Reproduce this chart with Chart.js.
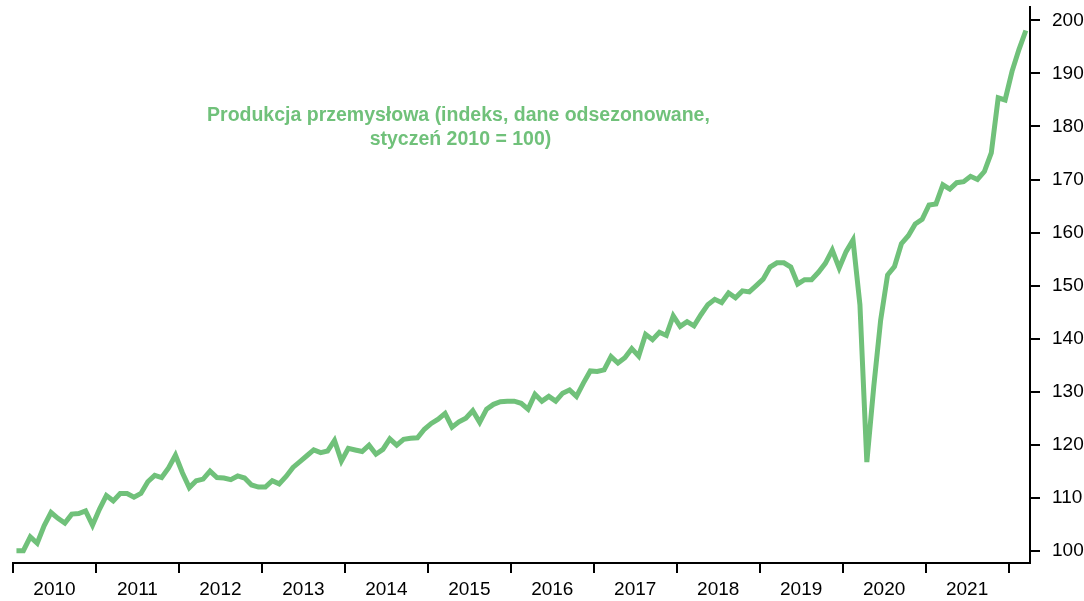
<!DOCTYPE html>
<html>
<head>
<meta charset="utf-8">
<script src="https://cdn.jsdelivr.net/npm/chart.js@4.4.0/dist/chart.umd.min.js"></script>
<style>
html,body{margin:0;padding:0;background:#ffffff;}
#wrap{width:1084px;height:601px;position:relative;}
</style>
</head>
<body>
<div id="wrap"><canvas id="c" width="1084" height="601"></canvas></div>
<script>
// ---- data (monthly, Jan 2010 .. Mar 2022) ----
const yearLabels = ['2010','2011','2012','2013','2014','2015','2016','2017','2018','2019','2020','2021'];
const v2010 = [100.0, 100.0, 102.6, 101.4, 104.7, 107.2, 106.1, 105.2, 106.9, 107.0, 107.5, 104.8];
const v2011 = [107.8, 110.4, 109.4, 110.8, 110.8, 110.1, 110.8, 113.0, 114.2, 113.8, 115.6, 118.0];
const v2012 = [114.7, 111.9, 113.2, 113.5, 115.0, 113.8, 113.7, 113.4, 114.1, 113.7, 112.4, 112.0];
const v2013 = [112.0, 113.2, 112.6, 114.0, 115.7, 116.8, 117.9, 119.0, 118.5, 118.8, 120.8, 116.9];
const v2014 = [119.3, 119.0, 118.7, 119.9, 118.2, 119.1, 121.1, 119.9, 121.0, 121.2, 121.3, 122.9];
const v2015 = [124.0, 124.8, 125.9, 123.3, 124.3, 125.0, 126.4, 124.2, 126.7, 127.6, 128.1, 128.2];
const v2016 = [128.2, 127.8, 126.7, 129.5, 128.2, 129.1, 128.2, 129.7, 130.3, 129.1, 131.6, 133.9];
const v2017 = [133.8, 134.1, 136.6, 135.4, 136.4, 138.1, 136.7, 140.8, 139.8, 141.2, 140.6, 144.3];
const v2018 = [142.3, 143.2, 142.4, 144.5, 146.4, 147.4, 146.8, 148.6, 147.7, 149.0, 148.8, 150.0];
const v2019 = [151.2, 153.5, 154.3, 154.3, 153.5, 150.3, 151.1, 151.1, 152.5, 154.2, 156.7, 153.3];
const v2020 = [156.4, 158.6, 146.4, 116.7, 130.9, 143.5, 152.0, 153.6, 157.9, 159.4, 161.6, 162.5];
const v2021 = [165.2, 165.4, 169.0, 168.2, 169.4, 169.6, 170.6, 170.0, 171.5, 175.0, 185.4, 185.0];
const v2022 = [190.4, 194.5, 198.1];
const yTicks = [100, 110, 120, 130, 140, 150, 160, 170, 180, 190, 200];
const titleLines = ['Produkcja przemysłowa (indeks, dane odsezonowane,', 'styczeń 2010 = 100)'];

const values = [].concat(v2010, v2011, v2012, v2013, v2014, v2015, v2016, v2017, v2018, v2019, v2020, v2021, v2022);
const points = values.map((v, i) => ({ x: i + 0.5, y: v }));
const yearTicks = yearLabels.map((_, k) => k * 12).concat([yearLabels.length * 12]);

const GREEN = '#70c17a';
const FONT = '"Liberation Sans", Arial, sans-serif';

const inTitle = {
  id: 'inTitle',
  afterDatasetsDraw(chart) {
    const ctx = chart.ctx;
    const a = chart.chartArea;
    const cx = a.left + (a.right - a.left) * 0.438;
    ctx.save();
    ctx.font = 'bold 19.5px ' + FONT;
    ctx.fillStyle = GREEN;
    ctx.textAlign = 'center';
    ctx.textBaseline = 'middle';
    ctx.fillText(titleLines[0], cx, a.top + 109);
    ctx.fillText(titleLines[1], cx + 2, a.top + 133);
    ctx.restore();
  }
};

new Chart(document.getElementById('c'), {
  type: 'line',
  data: {
    datasets: [{
      data: points,
      borderColor: GREEN,
      backgroundColor: GREEN,
      borderWidth: 5,
      pointRadius: 0,
      pointHoverRadius: 0,
      pointHitRadius: 0,
      tension: 0,
      fill: false
    }]
  },
  options: {
    responsive: false,
    devicePixelRatio: 1,
    animation: false,
    layout: { autoPadding: false, padding: { left: 13, top: 7, right: 0, bottom: 0 } },
    plugins: { legend: { display: false }, tooltip: { enabled: false }, title: { display: false } },
    scales: {
      x: {
        type: 'linear',
        min: 0,
        max: 147.1,
        afterBuildTicks: s => { s.ticks = yearTicks.map(v => ({ value: v })); },
        afterFit: s => { s.paddingLeft = 0; s.paddingRight = 0; s.paddingTop = 0; s.paddingBottom = 0; s.height = 38; },
        ticks: {
          autoSkip: false,
          maxRotation: 0,
          minRotation: 0,
          labelOffset: 41.5,
          padding: 5,
          color: '#000',
          font: { family: FONT, size: 19 },
          callback: (v) => { const l = yearLabels[Math.round(v / 12)]; return l === undefined ? '' : l; }
        },
        grid: { drawOnChartArea: false, drawTicks: true, tickLength: 10, color: '#000', lineWidth: 2 },
        border: { display: true, color: '#000', width: 2 }
      },
      y: {
        type: 'linear',
        position: 'right',
        min: 97.68,
        max: 202.53,
        afterBuildTicks: s => { s.ticks = yTicks.map(v => ({ value: v })); },
        afterFit: s => { s.paddingTop = 0; s.paddingBottom = 0; s.paddingLeft = 0; s.paddingRight = 0; s.width = 54; },
        ticks: { padding: 12, color: '#000', font: { family: FONT, size: 19 } },
        grid: { drawOnChartArea: false, drawTicks: true, tickLength: 10, color: '#000', lineWidth: 2 },
        border: { display: true, color: '#000', width: 2 }
      }
    }
  },
  plugins: [inTitle]
});
</script>
</body>
</html>
